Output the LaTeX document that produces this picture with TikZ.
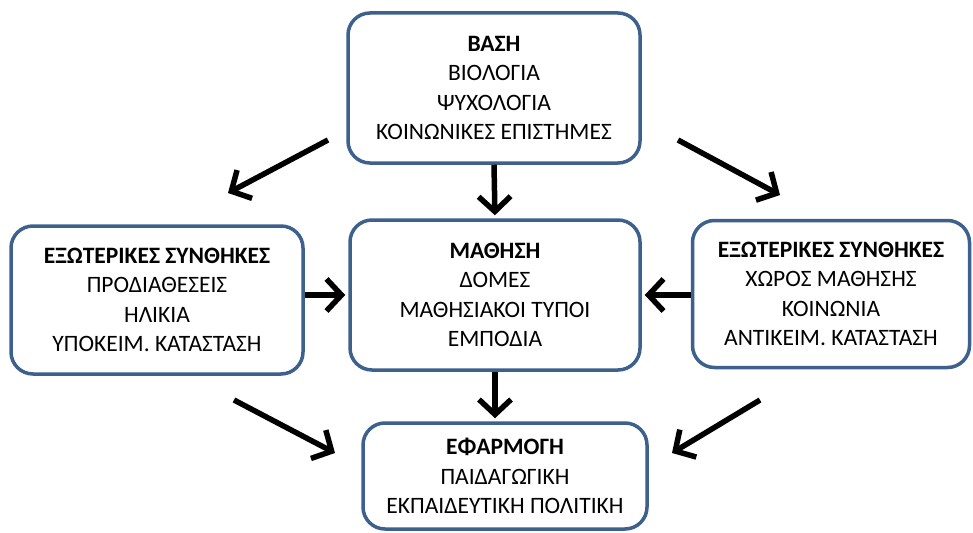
\documentclass[tikz,border=0pt]{standalone}
\usepackage{fontspec}
\setmainfont{Carlito}
\usetikzlibrary{arrows.meta}
\definecolor{boxblue}{RGB}{61,96,140}
\begin{document}
\begin{tikzpicture}[x=1pt,y=-1pt,
  box/.style={draw=boxblue, line width=3.5pt, rounded corners=22pt, fill=white,
    align=center, inner sep=0pt, font=\fontsize{23.5}{29.5}\selectfont},
  flow/.style={line width=5.5pt, black, -{Straight Barb[length=15pt,width=32pt]}}]
\useasboundingbox (0,0) rectangle (973,532);

% boxes
\node[box, minimum width=292pt, minimum height=150pt] (base) at (494,88)
  {\textbf{ΒΑΣΗ}\\ΒΙΟΛΟΓΙΑ\\ΨΥΧΟΛΟΓΙΑ\\ΚΟΙΝΩΝΙΚΕΣ ΕΠΙΣΤΗΜΕΣ};
\node[box, minimum width=292pt, minimum height=148pt] (left) at (157,300)
  {\textbf{ΕΞΩΤΕΡΙΚΕΣ ΣΥΝΘΗΚΕΣ}\\ΠΡΟΔΙΑΘΕΣΕΙΣ\\ΗΛΙΚΙΑ\\ΥΠΟΚΕΙΜ. ΚΑΤΑΣΤΑΣΗ};
\node[box, minimum width=290pt, minimum height=150pt] (mid) at (495,295)
  {\textbf{ΜΑΘΗΣΗ}\\ΔΟΜΕΣ\\ΜΑΘΗΣΙΑΚΟΙ ΤΥΠΟΙ\\ΕΜΠΟΔΙΑ};
\node[box, minimum width=277pt, minimum height=147pt] (right) at (831,294)
  {\textbf{ΕΞΩΤΕΡΙΚΕΣ ΣΥΝΘΗΚΕΣ}\\ΧΩΡΟΣ ΜΑΘΗΣΗΣ\\ΚΟΙΝΩΝΙΑ\\ΑΝΤΙΚΕΙΜ. ΚΑΤΑΣΤΑΣΗ};
\node[box, minimum width=284pt, minimum height=106pt] (app) at (505,476)
  {\textbf{ΕΦΑΡΜΟΓΗ}\\ΠΑΙΔΑΓΩΓΙΚΗ\\ΕΚΠΑΙΔΕΥΤΙΚΗ ΠΟΛΙΤΙΚΗ};

% free ends of the diagonal arrows
\coordinate (tl0) at (328,140);
\coordinate (tl1) at (228,193);
\coordinate (tr0) at (678,140);
\coordinate (tr1) at (780,195);
\coordinate (bl0) at (234,400);
\coordinate (bl1) at (335,453);
\coordinate (br0) at (760,400);
\coordinate (br1) at (672,453);

% connectors
\draw[flow, shorten >=3pt] (base.south) -- (mid.north);
\draw[flow, shorten >=3pt] (left.east |- mid.west) -- (mid.west);
\draw[flow, shorten >=3pt] (right.west |- mid.east) -- (mid.east);
\draw[flow, shorten >=3pt] (mid.south) -- (mid.south |- app.north);
\draw[flow] (tl0) -- (tl1);
\draw[flow] (tr0) -- (tr1);
\draw[flow] (bl0) -- (bl1);
\draw[flow] (br0) -- (br1);
\end{tikzpicture}
\end{document}
